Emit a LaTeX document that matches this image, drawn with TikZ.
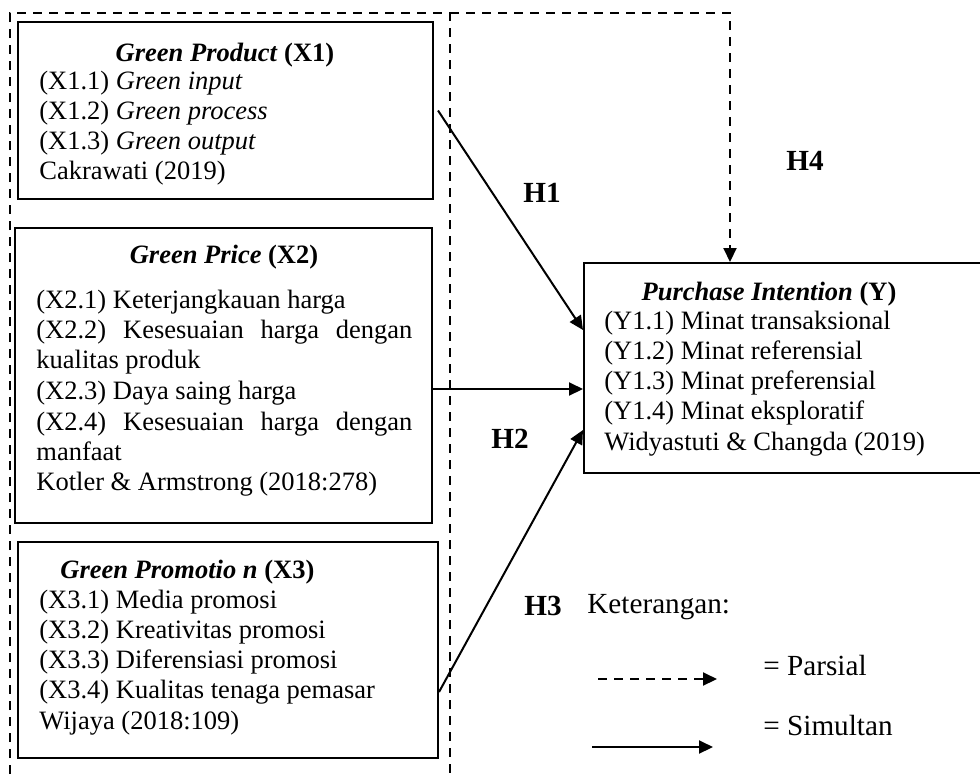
\documentclass[tikz,border=0pt]{standalone}
\usepackage{fontspec}
\setmainfont{Liberation Serif}
\usetikzlibrary{arrows.meta,fit,calc}
\newcommand\fsbox{\fontsize{13.25pt}{15pt}\selectfont}
\newcommand\fsleg{\fontsize{14.6pt}{17pt}\selectfont}
\tikzset{
  box/.style={draw, line width=1pt, inner sep=0pt},
  txt/.style={inner sep=0pt, anchor=base west, font=\fsbox},
  ttl/.style={inner sep=0pt, anchor=base, font=\fsbox\bfseries},
  hl/.style={inner sep=0pt, anchor=base, font=\fsleg\bfseries},
  leg/.style={inner sep=0pt, anchor=base west, font=\fsleg},
  dsh/.style={dash pattern=on 4.5pt off 3.5pt, line width=1pt},
  arr/.style={-{Triangle[length=7pt,width=6.5pt]}, line width=1pt},
}
\begin{document}
\begin{tikzpicture}[x=0.5pt,y=-0.5pt]
\clip (0,0) rectangle (980,778);
% dashed frame around independent variables
\coordinate (fbl) at (10,790);
\coordinate (ftl) at (10,13);
\coordinate (ftr) at (450,13);
\coordinate (fbr) at (450,790);
\draw[dsh] (fbl) -- (ftl) -- (ftr) -- (fbr);

% boxes
\node[box, fit={(18,22) (433,199)}] (x1) {};
\node[box, fit={(15,228) (432,523)}] (x2) {};
\node[box, fit={(18,542) (438,758)}] (x3) {};
\node[box, fit={(584,263) (990,473)}] (yb) {};

% X1 text
\node[ttl] (x1t) at (225,61) {\textit{Green Product} (X1)};
\node[txt] (x1a) at (39,89) {(X1.1) \textit{Green input}};
\node[txt] (x1b) at (39,119) {(X1.2) \textit{Green process}};
\node[txt] (x1c) at (39,149) {(X1.3) \textit{Green output}};
\node[txt] (x1d) at (39,179) {Cakrawati (2019)};

% X2 text
\node[ttl] (x2t) at (224,263) {\textit{Green Price} (X2)};
\node[txt] (x2a) at (36,308) {(X2.1) Keterjangkauan harga};
\node[txt] (x2b) at (36,338) {\makebox[188pt][s]{(X2.2) Kesesuaian harga dengan}};
\node[txt] (x2c) at (36,368) {kualitas produk};
\node[txt] (x2d) at (36,399) {(X2.3) Daya saing harga};
\node[txt] (x2e) at (36,430) {\makebox[188pt][s]{(X2.4) Kesesuaian harga dengan}};
\node[txt] (x2f) at (36,460) {manfaat};
\node[txt] (x2g) at (36,490) {Kotler \& Armstrong (2018:278)};

% X3 text
\node[txt, font=\fsbox\bfseries] (x3t) at (60,578) {\textit{Green Promotio n} (X3)};
\node[txt] (x3a) at (39,608) {(X3.1) Media promosi};
\node[txt] (x3b) at (39,638) {(X3.2) Kreativitas promosi};
\node[txt] (x3c) at (39,668) {(X3.3) Diferensiasi promosi};
\node[txt] (x3d) at (39,698) {(X3.4) Kualitas tenaga pemasar};
\node[txt] (x3e) at (39,729) {Wijaya (2018:109)};

% Y text
\node[ttl] (yt) at (769,300) {\textit{Purchase Intention} (Y)};
\node[txt] (ya) at (604,329) {(Y1.1) Minat transaksional};
\node[txt] (yb1) at (604,359) {(Y1.2) Minat referensial};
\node[txt] (yc) at (604,389) {(Y1.3) Minat preferensial};
\node[txt] (yd) at (604,419) {(Y1.4) Minat eksploratif};
\node[txt] (ye) at (604,450) {Widyastuti \& Changda (2019)};

% connectors
\draw[arr] ([xshift=2pt]x1.east) -- ([yshift=19pt]yb.west);
\draw[arr] ([yshift=-6.75pt]x2.east) -- ([yshift=-10.5pt]yb.west);
\draw[arr] ([yshift=-21pt]x3.east) -- ([yshift=-31pt]yb.west);
\coordinate (h4c) at (730,13);
\draw[dsh, arr] (ftr) -- (h4c) -- (h4c |- yb.north);

% hypothesis labels
\node[hl] (h1) at (542,202) {H1};
\node[hl] (h2) at (510,448) {H2};
\node[hl] (h3) at (543,615) {H3};
\node[hl] (h4) at (805,170) {H4};

% legend
\node[leg] (ket) at (587,613) {Keterangan:};
\coordinate (l1a) at (598,679);
\coordinate (l1b) at (717,679);
\coordinate (l2a) at (592,747);
\coordinate (l2b) at (713,747);
\draw[dsh, arr] (l1a) -- (l1b);
\draw[arr] (l2a) -- (l2b);
\node[leg] (lp) at (763,675) {= Parsial};
\node[leg] (ls) at (763,735) {= Simultan};
\end{tikzpicture}
\end{document}
